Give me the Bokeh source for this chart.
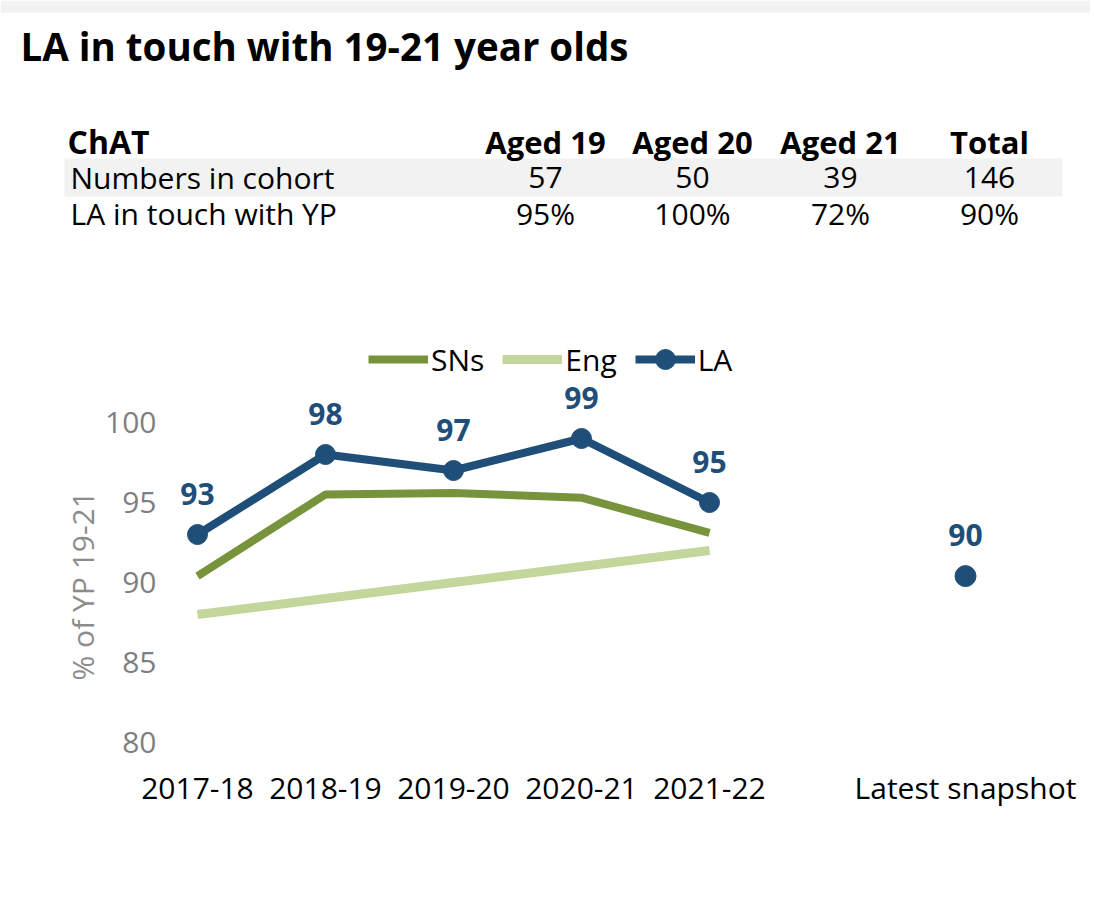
from bokeh.plotting import figure
from bokeh.models import Range1d, FixedTicker, Title, Legend, LegendItem
from bokeh.layouts import column
from bokeh.core.properties import value
from bokeh.embed import file_html
from bokeh.resources import INLINE

# ---------------- data ----------------
title = "LA in touch with 19-21 year olds"
table_title = "ChAT"
table_cols = ["Aged 19", "Aged 20", "Aged 21", "Total"]
row_labels = ["Numbers in cohort", "LA in touch with YP"]
cohort = [57, 50, 39, 146]
in_touch_pct = [95, 100, 72, 90]

years = ["2017-18", "2018-19", "2019-20", "2020-21", "2021-22"]
sns = [90.4, 95.5, 95.6, 95.3, 93.1]
eng = [88.0, 89.0, 90.0, 91.0, 92.0]
la = [93, 98, 97, 99, 95]
latest_label = "Latest snapshot"
latest_la = 90.4

y_ticks = [80, 85, 90, 95, 100]
y_title = "% of YP 19-21"

# ---------------- styles ----------------
FONT = "Open Sans"
C_LA = "#1F4E79"
C_SNS = "#77933C"
C_ENG = "#C3D69B"
W = 1090
TOP_H = 290

# ---------------- top: title + table ----------------
top = figure(width=W, height=TOP_H, x_range=Range1d(0, W), y_range=Range1d(TOP_H, 0),
             output_backend="svg", toolbar_location=None, min_border=0)
top.frame_align = False
top.axis.visible = False
top.grid.visible = False
top.outline_line_color = None

top.quad(left=[0], right=[W], top=[0], bottom=[12], fill_color="#f2f2f2", line_color=None)
top.text(x=[20], y=[45], text=[title], text_font=value(FONT), text_font_style="bold",
         text_font_size="38.5px", text_baseline="middle", text_color="#000000")

col_x = [545, 692, 840, 989]
top.quad(left=[64], right=[1062], top=[158], bottom=[196], fill_color="#f2f2f2", line_color=None)
top.text(x=[67], y=[141], text=[table_title], text_font=value(FONT), text_font_style="bold",
         text_font_size="32px", text_baseline="middle", text_color="#000000")
top.text(x=col_x, y=[141] * len(table_cols), text=table_cols, text_font=value(FONT),
         text_font_style="bold", text_font_size="31px", text_baseline="middle",
         text_align="center", text_color="#000000")
row_y = [177, 213]
top.text(x=[70, 70], y=row_y, text=row_labels, text_font=value(FONT), text_font_size="30px",
         text_baseline="middle", text_color="#000000")
top.text(x=col_x, y=[row_y[0]] * 4, text=[str(v) for v in cohort], text_font=value(FONT),
         text_font_size="30px", text_baseline="middle", text_align="center", text_color="#000000")
top.text(x=col_x, y=[row_y[1]] * 4, text=[f"{v}%" for v in in_touch_pct], text_font=value(FONT),
         text_font_size="30px", text_baseline="middle", text_align="center", text_color="#000000")

# ---------------- chart ----------------
x_idx = list(range(len(years)))
latest_x = len(years) + 1

ch = figure(width=W, height=601, x_range=Range1d(-0.203125, 6.5), y_range=Range1d(78.375, 105.75),
            output_backend="svg", toolbar_location=None,
            min_border_left=171, min_border_right=W - 171 - 858, min_border_top=40, min_border_bottom=123)
ch.frame_align = False
ch.grid.visible = False
ch.outline_line_color = None

ch.xaxis.ticker = FixedTicker(ticks=x_idx + [latest_x])
overrides = {i: y for i, y in zip(x_idx, years)}
overrides[latest_x] = latest_label
ch.xaxis.major_label_overrides = overrides
ch.xaxis.axis_line_color = None
ch.xaxis.major_tick_line_color = None
ch.xaxis.minor_tick_line_color = None
ch.xaxis.major_label_text_font = FONT
ch.xaxis.major_label_text_font_size = "30px"
ch.xaxis.major_label_text_color = "#000000"
ch.xaxis.major_label_standoff = -8

ch.yaxis.ticker = FixedTicker(ticks=y_ticks)
ch.yaxis.axis_line_color = None
ch.yaxis.major_tick_line_color = None
ch.yaxis.minor_tick_line_color = None
ch.yaxis.major_label_text_font = FONT
ch.yaxis.major_label_text_font_size = "30px"
ch.yaxis.major_label_text_color = "#7f7f7f"
ch.yaxis.major_label_standoff = 9

r_eng = ch.line(x_idx, eng, line_color=C_ENG, line_width=9)
r_sns = ch.line(x_idx, sns, line_color=C_SNS, line_width=8, line_join="round")
r_la = ch.line(x_idx, la, line_color=C_LA, line_width=8, line_join="round")
r_lap = ch.scatter(x_idx, la, size=20, fill_color=C_LA, line_color=C_LA)
ch.scatter([latest_x], [latest_la], size=21, fill_color=C_LA, line_color=C_LA)

ch.text(x=x_idx + [latest_x], y=la + [latest_la],
        text=[str(round(v)) for v in la + [latest_la]],
        text_font=value(FONT), text_font_style="bold", text_font_size="30px",
        text_color=C_LA, text_align="center", text_baseline="middle", y_offset=-41)

legend = Legend(items=[LegendItem(label="SNs", renderers=[r_sns]),
                       LegendItem(label="Eng", renderers=[r_eng]),
                       LegendItem(label="LA", renderers=[r_la, r_lap])],
                orientation="horizontal", location=(197, 384),
                glyph_width=60, glyph_height=50, label_height=50, label_standoff=3,
                spacing=18, padding=0, margin=0,
                label_text_font=FONT, label_text_font_size="30px", label_text_color="#000000",
                border_line_color=None, background_fill_alpha=0)
ch.add_layout(legend)

ch.add_layout(Title(text=y_title, align="left", offset=88, text_font=FONT,
                    text_font_size="30px", text_font_style="normal", text_color="#8c8c8c",
                    standoff=0), "left")

open("out.html", "w").write(file_html(column(top, ch), INLINE))
